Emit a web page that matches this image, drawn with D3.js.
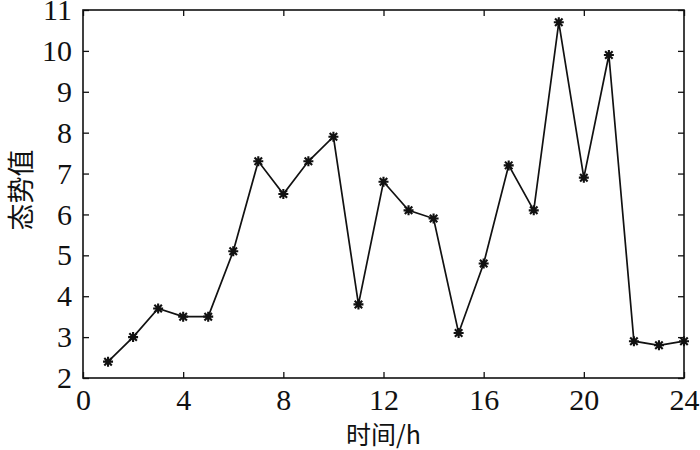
<!DOCTYPE html>
<html><head><meta charset="utf-8">
<script src="https://cdn.jsdelivr.net/npm/d3@7"></script>
<style>body{margin:0;background:#fff}</style>
</head><body>
<svg id="c" width="700" height="450"></svg>
<script>
const hours = [1,2,3,4,5,6,7,8,9,10,11,12,13,14,15,16,17,18,19,20,21,22,23,24];
const values = [2.4,3.0,3.7,3.5,3.5,5.1,7.3,6.5,7.3,7.9,3.8,6.8,6.1,5.9,3.1,4.8,7.2,6.1,10.7,6.9,9.9,2.9,2.8,2.9];
const xTicks = [0,4,8,12,16,20,24];
const yTicks = [2,3,4,5,6,7,8,9,10,11];
const xLabel = "时间/h";
const yLabel = "态势值";

const svg = d3.select("#c");
const L=83, R=684, T=10, B=378;
const x = d3.scaleLinear().domain([0,24]).range([L,R]);
const y = d3.scaleLinear().domain([2,11]).range([B,T]);
const tl = 6;

svg.append("g").attr("transform",`translate(0,${B})`)
  .call(d3.axisBottom(x).tickValues(xTicks).tickSizeInner(-tl).tickSizeOuter(0).tickPadding(11))
  .call(g=>g.select(".domain").remove());
svg.append("g").attr("transform",`translate(0,${T})`)
  .call(d3.axisTop(x).tickValues(xTicks).tickSizeInner(-tl).tickSizeOuter(0).tickFormat(""))
  .call(g=>g.select(".domain").remove());
svg.append("g").attr("transform",`translate(${L},0)`)
  .call(d3.axisLeft(y).tickValues(yTicks).tickSizeInner(-tl).tickSizeOuter(0).tickPadding(11))
  .call(g=>g.select(".domain").remove());
svg.append("g").attr("transform",`translate(${R},0)`)
  .call(d3.axisRight(y).tickValues(yTicks).tickSizeInner(-tl).tickSizeOuter(0).tickFormat(""))
  .call(g=>g.select(".domain").remove());

svg.selectAll("g").attr("font-family",null).attr("font-size",null);
svg.selectAll(".tick line").attr("stroke","#111").attr("stroke-width",1.3);
svg.selectAll(".tick text")
  .style("font-family","'Liberation Serif','DejaVu Serif',serif").style("font-size","30px").attr("fill","#111");

svg.append("rect").attr("x",L).attr("y",T).attr("width",R-L).attr("height",B-T)
  .attr("fill","none").attr("stroke","#111").attr("stroke-width",1.6);

const line = d3.line().x((d,i)=>x(hours[i])).y(d=>y(d));
svg.append("path").datum(values).attr("d",line).attr("fill","none")
  .attr("stroke","#111").attr("stroke-width",1.7);

const r=5, rd=r*0.75;
svg.append("g").selectAll("path.m").data(values).join("path")
  .attr("transform",(d,i)=>`translate(${x(hours[i])},${y(d)})`)
  .attr("d",`M${-r},0L${r},0M0,${-r}L0,${r}M${-rd},${-rd}L${rd},${rd}M${-rd},${rd}L${rd},${-rd}`)
  .attr("stroke","#111").attr("stroke-width",2.1).attr("fill","none");

svg.append("text").attr("x",(L+R)/2).attr("y",444).attr("text-anchor","middle")
  .style("font-family","'Noto Sans CJK SC', sans-serif").style("font-size","25px").attr("fill","#111")
  .text(xLabel);
svg.append("text").attr("transform",`translate(31,190) rotate(-90)`).attr("text-anchor","middle")
  .style("font-family","'Noto Sans CJK SC', sans-serif").style("font-size","27px").attr("fill","#111")
  .text(yLabel);
</script>
</body></html>
